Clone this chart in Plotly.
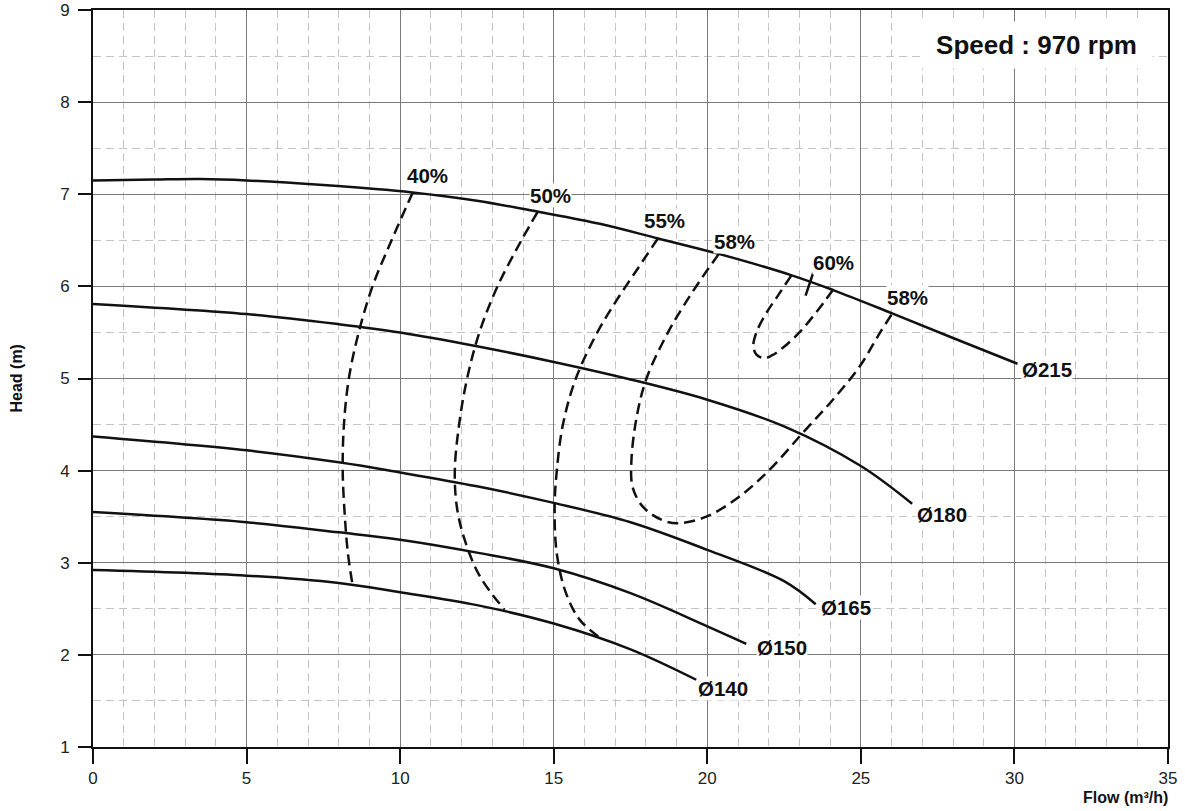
import plotly.graph_objects as go

# ---- impeller curves (Flow m3/h, Head m) ----
q_215 = [0, 2, 3.5, 5, 7.5, 10.4, 12.5, 14.5, 16.5, 18.4, 20.4, 22.75, 24.1, 26, 28, 30.1]
h_215 = [7.15, 7.16, 7.165, 7.15, 7.1, 7.02, 6.93, 6.81, 6.68, 6.52, 6.35, 6.12, 5.96, 5.71, 5.44, 5.16]

q_180 = [0, 5, 8, 10, 12.5, 15, 17.5, 20, 22.5, 25, 26.67]
h_180 = [5.81, 5.70, 5.59, 5.50, 5.35, 5.18, 4.99, 4.77, 4.48, 4.05, 3.64]

q_165 = [0, 5, 8, 10, 12.5, 15, 17.5, 20, 22.5, 23.53]
h_165 = [4.37, 4.22, 4.09, 3.98, 3.83, 3.65, 3.44, 3.14, 2.80, 2.55]

q_150 = [0, 5, 8, 10, 12.5, 15, 17.5, 20, 21.27]
h_150 = [3.55, 3.44, 3.33, 3.25, 3.11, 2.94, 2.67, 2.31, 2.12]

q_140 = [0, 5, 8, 10, 12.5, 15, 17.5, 19.64]
h_140 = [2.92, 2.86, 2.78, 2.68, 2.54, 2.34, 2.06, 1.73]

# ---- iso-efficiency curves ----
q_e40 = [10.41, 9.72, 9.1, 8.65, 8.33, 8.17, 8.13, 8.2, 8.3, 8.45]
h_e40 = [7.02, 6.5, 6.0, 5.5, 5.0, 4.5, 4.0, 3.5, 3.1, 2.76]

q_e50 = [14.48, 13.95, 13.17, 12.58, 12.18, 11.92, 11.78, 11.85, 12.1, 12.6, 13.4]
h_e50 = [6.81, 6.5, 6.0, 5.5, 5.0, 4.5, 4.0, 3.6, 3.25, 2.85, 2.49]

q_e55 = [18.39, 17.75, 17.05, 16.42, 15.72, 15.3, 15.1, 15.03, 15.1, 15.4, 15.85, 16.45]
h_e55 = [6.52, 6.2, 5.85, 5.5, 5.0, 4.5, 4.0, 3.6, 3.1, 2.67, 2.38, 2.2]

q_e58 = [20.37, 19.78, 19.25, 18.72, 18.02, 17.7, 17.53, 17.57, 17.9, 18.55, 19.1,
         19.97, 21.05, 22.03, 23.11, 24.09, 24.96, 25.61, 26.03]
h_e58 = [6.35, 6.07, 5.8, 5.5, 5.0, 4.58, 4.11, 3.82, 3.61, 3.46, 3.43,
         3.5, 3.72, 4.01, 4.41, 4.77, 5.13, 5.49, 5.71]

q_e60 = [22.74, 22.3, 21.92, 21.6, 21.5, 21.6, 21.85, 22.1, 22.45, 23.0, 23.55, 24.09]
h_e60 = [6.12, 5.9, 5.71, 5.5, 5.35, 5.26, 5.22, 5.25, 5.33, 5.5, 5.72, 5.96]

q_e60_tick = [23.45, 23.2]
h_e60_tick = [6.15, 5.9]

# ---- labels ----
dia_labels = ["Ø215", "Ø180", "Ø165", "Ø150", "Ø140"]
dia_label_q = [30.2, 26.8, 23.68, 21.57, 19.68]
dia_label_h = [5.10, 3.52, 2.51, 2.08, 1.64]

eff_labels = ["40%", "50%", "55%", "58%", "60%", "58%"]
eff_label_q = [10.9, 14.9, 18.61, 20.89, 24.11, 26.52]
eff_label_h = [7.20, 6.99, 6.72, 6.49, 6.26, 5.88]

x_ticks = [0, 5, 10, 15, 20, 25, 30, 35]
y_ticks = [1, 2, 3, 4, 5, 6, 7, 8, 9]

FONT = "Liberation Sans, Arial, sans-serif"

fig = go.Figure()

for q, h in [(q_215, h_215), (q_180, h_180), (q_165, h_165), (q_150, h_150), (q_140, h_140)]:
    fig.add_trace(go.Scatter(x=q, y=h, mode="lines",
                             line=dict(color="#111111", width=2.5, shape="spline", smoothing=1.0),
                             hoverinfo="skip"))

for q, h in [(q_e40, h_e40), (q_e50, h_e50), (q_e55, h_e55), (q_e58, h_e58), (q_e60, h_e60)]:
    fig.add_trace(go.Scatter(x=q, y=h, mode="lines",
                             line=dict(color="#111111", width=2.5, shape="spline", smoothing=1.0,
                                       dash="11px,6px"),
                             hoverinfo="skip"))

fig.add_trace(go.Scatter(x=q_e60_tick, y=h_e60_tick, mode="lines",
                         line=dict(color="#111111", width=2.5), hoverinfo="skip"))

for t, q, h in zip(dia_labels, dia_label_q, dia_label_h):
    fig.add_annotation(x=q, y=h, text="<b>%s</b>" % t, showarrow=False, xanchor="left",
                       yanchor="middle", font=dict(family=FONT, size=20.5, color="#111111"),
                       bgcolor="white", borderpad=0)

for t, q, h in zip(eff_labels, eff_label_q, eff_label_h):
    fig.add_annotation(x=q, y=h, text="<b>%s</b>" % t, showarrow=False, xanchor="center",
                       yanchor="middle", font=dict(family=FONT, size=20.5, color="#111111"),
                       bgcolor="white", borderpad=0)

fig.add_annotation(x=30.72, y=8.625, text="<b>Speed : 970 rpm</b>", showarrow=False,
                   xanchor="center", yanchor="middle",
                   font=dict(family=FONT, size=26, color="#111111"),
                   bgcolor="white", width=215, height=30, borderpad=8)

fig.add_annotation(xref="paper", yref="paper", x=1, y=0, xanchor="right", yanchor="top",
                   yshift=-40, xshift=2, text="<b>Flow (m³/h)</b>", showarrow=False,
                   font=dict(family=FONT, size=16, color="#111111"))
fig.add_annotation(xref="paper", yref="paper", x=0, y=0.5, xanchor="center", yanchor="middle",
                   xshift=-77, textangle=-90, text="<b>Head (m)</b>", showarrow=False,
                   font=dict(family=FONT, size=16, color="#111111"))

axis_common = dict(showgrid=True, gridcolor="#7a7a7a", gridwidth=1,
                   ticks="outside", tickcolor="#111111", tickwidth=2,
                   showline=True, linecolor="#111111", linewidth=2, mirror=True,
                   zeroline=False, automargin=False, ticklabeloverflow="allow",
                   tickfont=dict(family=FONT, size=17, color="#222222"))

fig.update_xaxes(range=[0, 35], tickmode="array", tickvals=x_ticks, ticklen=15,
                 minor=dict(dtick=1, tick0=0, showgrid=True, gridcolor="#c4c4c4",
                            griddash="8px,5px", gridwidth=1, ticks=""),
                 **axis_common)
fig.update_yaxes(range=[1, 9], tickmode="array", tickvals=y_ticks, ticklen=13,
                 ticklabelstandoff=5,
                 minor=dict(dtick=0.5, tick0=0, showgrid=True, gridcolor="#c4c4c4",
                            griddash="8px,5px", gridwidth=1, ticks=""),
                 **axis_common)

fig.update_layout(width=1185, height=811, margin=dict(l=93, r=17, t=10, b=64),
                  plot_bgcolor="white", paper_bgcolor="white", showlegend=False,
                  font=dict(family=FONT), hovermode=False)

# remove the default page margin so the figure sits at the window's top-left corner
fig.write_html("out.html", config={"displayModeBar": False},
               post_script="document.body.style.margin='0';document.body.style.overflow='hidden';")
